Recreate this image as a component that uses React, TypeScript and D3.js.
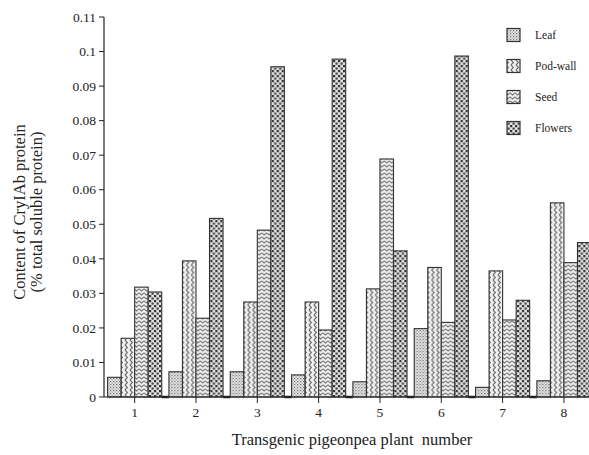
import React from "react";
import * as d3 from "d3";

const plants = ["1", "2", "3", "4", "5", "6", "7", "8"];
const seriesNames = ["Leaf", "Pod-wall", "Seed", "Flowers"];
const leaf = [0.0057, 0.0073, 0.0073, 0.0064, 0.0044, 0.0198, 0.0028, 0.0047];
const podWall = [0.017, 0.0394, 0.0275, 0.0275, 0.0313, 0.0375, 0.0365, 0.0562];
const seed = [0.0318, 0.0228, 0.0483, 0.0194, 0.0689, 0.0216, 0.0223, 0.0389];
const flowers = [0.0304, 0.0517, 0.0956, 0.0978, 0.0423, 0.0987, 0.028, 0.0447];
const yTicks = [0, 0.01, 0.02, 0.03, 0.04, 0.05, 0.06, 0.07, 0.08, 0.09, 0.1, 0.11];
const yTickLabels = ["0", "0.01", "0.02", "0.03", "0.04", "0.05", "0.06", "0.07", "0.08", "0.09", "0.1", "0.11"];

const seriesValues = [leaf, podWall, seed, flowers];
const patternIds = ["pLeaf", "pPod", "pSeed", "pFlow"];

const W = 589;
const H = 455;
const FONT = "Liberation Serif, Times New Roman, serif";

export default function App() {
  const x = d3.scaleBand<string>().domain(plants).range([104, 594.6]).paddingInner(0).paddingOuter(0);
  const inner = d3
    .scaleBand<string>()
    .domain(seriesNames)
    .range([3.6, x.bandwidth() - 3.6])
    .paddingInner(0);
  const y = d3.scaleLinear().domain([0, 0.11]).range([397, 17]);

  const legendY = d3.scalePoint<string>().domain(seriesNames).range([35, 128]);

  return (
    <div style={{ position: "absolute", left: 0, top: 0, margin: 0 }}>
      <svg width={W} height={H} style={{ display: "block", background: "#fff" }}>
        <defs>
          <pattern id="pLeaf" width="3" height="3" patternUnits="userSpaceOnUse">
            <rect width="3" height="3" fill="#eeeeee" />
            <rect x="0" y="0" width="1.2" height="1.2" fill="#666" />
            <rect x="1.5" y="1.5" width="1.2" height="1.2" fill="#888" />
          </pattern>
          <pattern id="pPod" width="5" height="5" patternUnits="userSpaceOnUse">
            <rect width="5" height="5" fill="#f0f0f0" />
            <path d="M1,0 L3.4,2.5 L1,5" fill="none" stroke="#6a6a6a" strokeWidth="1.1" />
          </pattern>
          <pattern id="pSeed" width="5" height="4" patternUnits="userSpaceOnUse">
            <rect width="5" height="4" fill="#eeeeee" />
            <path d="M0,0.8 L2.5,3 L5,0.8" fill="none" stroke="#777" strokeWidth="1.1" />
          </pattern>
          <pattern id="pFlow" width="5" height="5" patternUnits="userSpaceOnUse">
            <rect width="5" height="5" fill="#e0e0e0" />
            <rect x="0" y="0" width="2.2" height="2.2" fill="#333" />
            <rect x="2.5" y="2.5" width="2.2" height="2.2" fill="#444" />
          </pattern>
        </defs>

        {/* bars */}
        {plants.map((p, i) => (
          <g key={p} transform={`translate(${x(p)},0)`}>
            {seriesNames.map((s, k) => {
              const v = seriesValues[k][i];
              return (
                <rect
                  key={s}
                  x={inner(s)}
                  y={y(v)}
                  width={inner.bandwidth()}
                  height={y(0) - y(v)}
                  fill={`url(#${patternIds[k]})`}
                  stroke="#333"
                  strokeWidth={1.1}
                />
              );
            })}
            <line x1={x.bandwidth() - 3.6} x2={x.bandwidth() + 3.6} y1={y(0)} y2={y(0)} stroke="#222" strokeWidth={2.5} />
          </g>
        ))}

        {/* y axis */}
        <line x1={104} x2={104} y1={y(0.11)} y2={y(0)} stroke="#222" strokeWidth={1.2} />
        {yTicks.map((t, i) => (
          <g key={t}>
            <line x1={99} x2={104} y1={y(t)} y2={y(t)} stroke="#222" strokeWidth={1} />
            <text x={96} y={y(t)} dy="0.35em" textAnchor="end" fontFamily={FONT} fontSize={13.5} fill="#222">
              {yTickLabels[i]}
            </text>
          </g>
        ))}

        {/* x axis */}
        <line x1={104} x2={W} y1={y(0)} y2={y(0)} stroke="#222" strokeWidth={1.2} />
        {plants.map((p) => {
          const cx = (x(p) as number) + x.bandwidth() / 2;
          return (
            <g key={p}>
              <line x1={cx} x2={cx} y1={y(0)} y2={y(0) + 6} stroke="#222" strokeWidth={1} />
              <text x={cx} y={417} textAnchor="middle" fontFamily={FONT} fontSize={13.5} fill="#222">
                {p}
              </text>
            </g>
          );
        })}

        {/* axis titles */}
        <text
          transform="translate(25,212) rotate(-90)"
          textAnchor="middle"
          fontFamily={FONT}
          fontSize={16.5}
          fill="#222"
        >
          Content of CryIAb protein
        </text>
        <text
          transform="translate(42,212) rotate(-90)"
          textAnchor="middle"
          fontFamily={FONT}
          fontSize={16.5}
          fill="#222"
        >
          (% total soluble protein)
        </text>
        <text x={352} y={445} textAnchor="middle" fontFamily={FONT} fontSize={16.5} fill="#222" xmlSpace="preserve">
          Transgenic pigeonpea plant  number
        </text>

        {/* legend */}
        {seriesNames.map((s, k) => {
          const ly = legendY(s) as number;
          return (
            <g key={s}>
              <rect x={507} y={ly - 6.5} width={13} height={13} fill={`url(#${patternIds[k]})`} stroke="#333" strokeWidth={1.2} />
              <text x={535} y={ly} dy="0.35em" fontFamily={FONT} fontSize={11.5} fill="#222">
                {s}
              </text>
            </g>
          );
        })}
      </svg>
    </div>
  );
}
